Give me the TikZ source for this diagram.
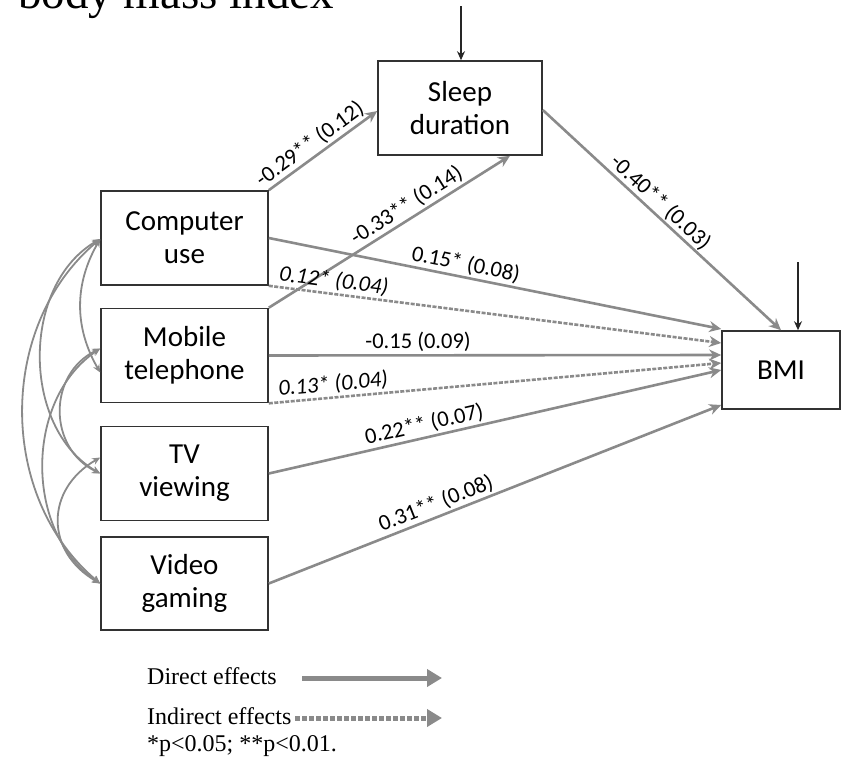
\documentclass[tikz,border=0pt]{standalone}
\usepackage{fontspec}
\setmainfont{Carlito}
\newfontfamily\legendfont{Liberation Serif}
\usetikzlibrary{arrows.meta}
\definecolor{pathgray}{RGB}{138,138,138}
\definecolor{boxgray}{RGB}{50,50,50}

\begin{document}
\begin{tikzpicture}[x=1pt, y=1pt,
  var/.style={draw=boxgray, line width=1.6pt, minimum width=167pt, minimum height=94pt, align=center, inner sep=0pt, font=\fontsize{29}{33}\selectfont},
  direct/.style={draw=pathgray, line width=2.6pt, -{Stealth[length=12pt,width=11pt]}},
  indirect/.style={direct, dash pattern=on 4pt off 1.5pt},
  cov/.style={draw=pathgray, line width=1.8pt, {Stealth[length=8pt,width=7pt]}-{Stealth[length=8pt,width=7pt]}},
  resid/.style={draw=black!85, line width=1.8pt, -{Stealth[length=9pt,width=8pt]}},
  est/.style={font=\fontsize{22.5}{25}\selectfont, sloped, above, inner sep=2pt},
  legtext/.style={anchor=base west, inner sep=0pt, font=\legendfont\fontsize{24}{28}\selectfont},
  legarrow/.style={draw=pathgray, line width=5pt, -{Triangle[length=15pt,width=17pt]}}]
  \useasboundingbox (0,0) rectangle (841,-763);
  \node[anchor=base west, inner sep=0pt, font=\legendfont\fontsize{47}{50}\selectfont] (title) at (18,-8) {body mass index};

  % variables
  \node[var, minimum width=164pt] (sleep) at (460,-108) {Sleep\\duration};
  \node[var] (comp) at (184.5,-238) {Computer\\use};
  \node[var] (mob) at (184.5,-355.5) {Mobile\\telephone};
  \node[var] (tv) at (184.5,-473.5) {TV\\viewing};
  \node[var, minimum height=93pt] (game) at (184.5,-583.5) {Video\\gaming};
  \node[var, minimum width=118pt, minimum height=78pt] (bmi) at (781,-370) {BMI};

  % residuals
  \coordinate (sleepin) at (461,-6); \draw[resid] (sleepin) -- (sleepin |- sleep.north);
  \coordinate (bmiin) at (798,-262); \draw[resid] (bmiin) -- (bmiin |- bmi.north);

  % paths via sleep
  \draw[direct] (comp.north east) -- ([yshift=-3pt]sleep.west) node[est, pos=0.45] {-0.29** (0.12)};
  \draw[direct] (mob.north east) -- ([xshift=50pt]sleep.south) node[est, pos=0.6] {-0.33** (0.14)};
  \draw[direct] ([yshift=-2pt]sleep.east) -- (bmi.north) node[est, pos=0.46, inner sep=1pt] {-0.40** (0.03)};

  % paths to BMI
  \draw[direct] (comp.east) -- ([yshift=41pt]bmi.west) node[est, pos=0.43] {0.15* (0.08)};
  \draw[indirect] (comp.south east) -- ([yshift=27pt]bmi.west) node[est, pos=0.14, font=\fontsize{22.5}{25}\selectfont\itshape] {0.12* (0.04)};
  \draw[direct] (mob.east) -- ([yshift=15pt]bmi.west) node[est, pos=0.33] {-0.15 (0.09)};
  \draw[indirect] (mob.south east) -- ([yshift=7pt]bmi.west) node[est, pos=0.145, font=\fontsize{22.5}{25}\selectfont\itshape] {0.13* (0.04)};
  \draw[direct] (tv.east) -- (bmi.west) node[est, pos=0.35] {0.22** (0.07)};
  \draw[direct] (game.east) -- ([yshift=-35pt]bmi.west) node[est, pos=0.38] {0.31** (0.08)};

  % covariances
  \draw[cov] ([yshift=-1pt]comp.west) to[out=240, in=120] ([yshift=-17pt]mob.west);
  \draw[cov] ([yshift=-1pt]comp.west) to[out=210, in=150] ([yshift=0pt]tv.west);
  \draw[cov] ([yshift=-1pt]comp.west) to[out=220, in=140] (game.west);
  \draw[cov] ([yshift=7pt]mob.west) to[out=206, in=154, looseness=1.2] ([yshift=0pt]tv.west);
  \draw[cov] ([yshift=7pt]mob.west) to[out=214, in=146] (game.west);
  \draw[cov] ([yshift=16pt]tv.west) to[out=210, in=150, looseness=1.3] (game.west);

  % legend
  \node[legtext] (dirlbl) at (147,-684) {Direct effects};
  \node[legtext] (indlbl) at (147,-724) {Indirect effects};
  \node[legtext] (pnote) at (147,-751) {*p<0.05; **p<0.01.};
  \coordinate (dirA) at (302,-678); \coordinate (dirB) at (442,-678);
  \coordinate (indA) at (295,-718); \coordinate (indB) at (442,-718);
  \draw[legarrow] (dirA) -- (dirB);
  \draw[legarrow, dash pattern=on 5pt off 2pt] (indA) -- (indB);
\end{tikzpicture}
\end{document}
